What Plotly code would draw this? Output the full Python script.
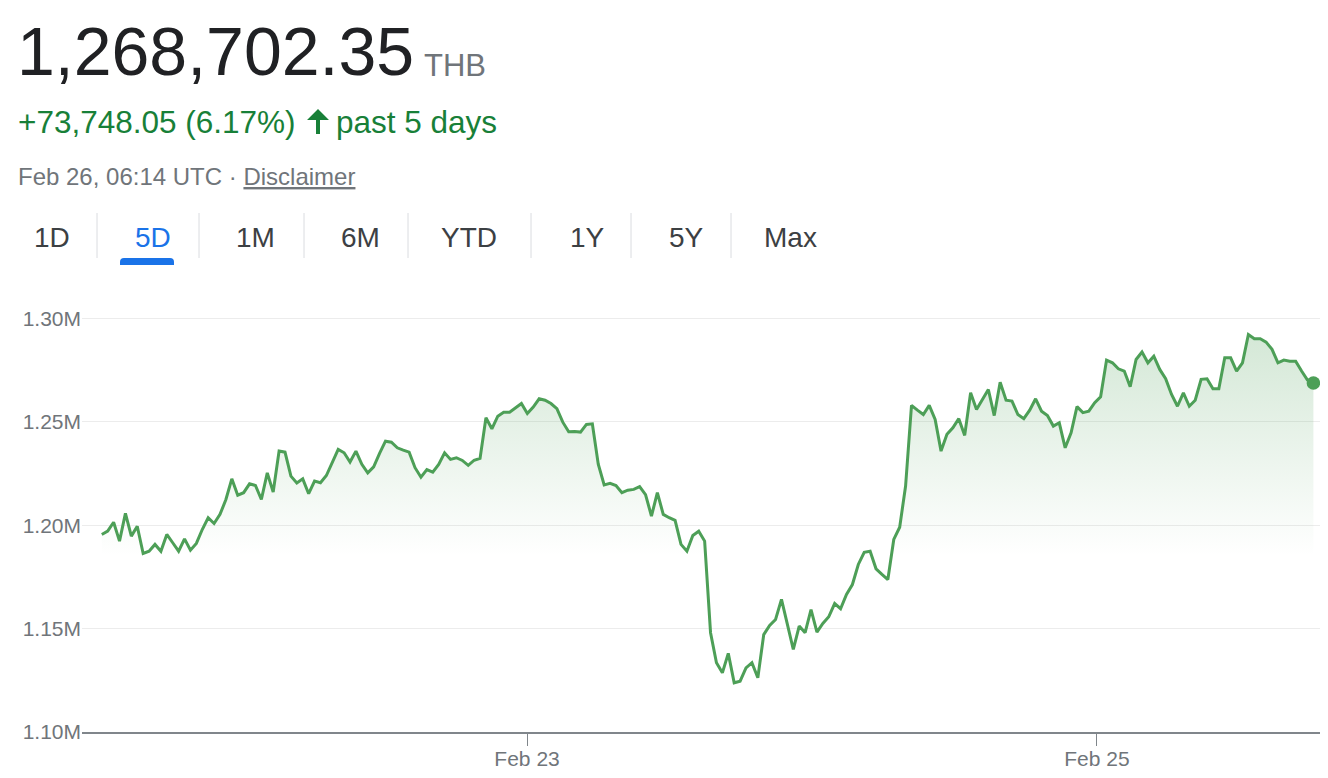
import pandas as pd
import plotly.graph_objects as go

# ---------------- data ----------------
start_time = "2024-02-21 12:11"
step = "1792s"
values_m = [
    1.1955, 1.1971, 1.2014, 1.1923, 1.2057, 1.1947, 1.1995, 1.1863, 1.1874, 1.1907,
    1.1874, 1.1955, 1.1915, 1.1874, 1.1934, 1.1879, 1.1912, 1.1979, 1.2036, 1.2008,
    1.2052, 1.2124, 1.2224, 1.2145, 1.2157, 1.2200, 1.2192, 1.2124, 1.2253, 1.2160,
    1.2358, 1.2353, 1.2237, 1.2204, 1.2224, 1.2152, 1.2213, 1.2205, 1.2240, 1.2302,
    1.2366, 1.2350, 1.2305, 1.2358, 1.2294, 1.2253, 1.2282, 1.2347, 1.2406, 1.2401,
    1.2374, 1.2363, 1.2353, 1.2278, 1.2232, 1.2269, 1.2256, 1.2294, 1.2350, 1.2318,
    1.2326, 1.2313, 1.2289, 1.2314, 1.2323, 1.2519, 1.2466, 1.2527, 1.2546, 1.2546,
    1.2568, 1.2588, 1.2540, 1.2571, 1.2611, 1.2604, 1.2588, 1.2563, 1.2498, 1.2452,
    1.2453, 1.2450, 1.2487, 1.2490, 1.2295, 1.2195, 1.2202, 1.2192, 1.2157, 1.2169,
    1.2173, 1.2186, 1.2148, 1.2044, 1.2157, 1.2052, 1.2036, 1.2023, 1.1907, 1.1874,
    1.1950, 1.1971, 1.1923, 1.1480, 1.1335, 1.1286, 1.1380, 1.1238, 1.1246, 1.1310,
    1.1335, 1.1262, 1.1471, 1.1515, 1.1544, 1.1641, 1.1520, 1.1399, 1.1512, 1.1480,
    1.1592, 1.1483, 1.1525, 1.1557, 1.1621, 1.1596, 1.1665, 1.1713, 1.1810, 1.1869,
    1.1874, 1.1789, 1.1762, 1.1737, 1.1931, 1.1990, 1.2189, 1.2579, 1.2556, 1.2535,
    1.2579, 1.2511, 1.2358, 1.2439, 1.2471, 1.2515, 1.2434, 1.2640, 1.2559, 1.2611,
    1.2656, 1.2530, 1.2691, 1.2604, 1.2600, 1.2535, 1.2515, 1.2556, 1.2611, 1.2551,
    1.2530, 1.2479, 1.2495, 1.2374, 1.2447, 1.2573, 1.2544, 1.2551, 1.2592, 1.2621,
    1.2798, 1.2785, 1.2756, 1.2745, 1.2669, 1.2801, 1.2837, 1.2785, 1.2817, 1.2753,
    1.2708, 1.2632, 1.2575, 1.2640, 1.2575, 1.2604, 1.2705, 1.2708, 1.2660, 1.2660,
    1.2809, 1.2809, 1.2745, 1.2785, 1.2922, 1.2901, 1.2901, 1.2885, 1.2850, 1.2785,
    1.2798, 1.2793, 1.2793, 1.2745, 1.2701, 1.2687,
]
y_ticks = [1.10, 1.15, 1.20, 1.25, 1.30]
y_tick_labels = ["1.10M", "1.15M", "1.20M", "1.25M", "1.30M"]
x_ticks = ["2024-02-23", "2024-02-25"]
x_tick_labels = ["Feb 23", "Feb 25"]
x_range = ["2024-02-21 10:31", "2024-02-25 18:47"]
y_range = [1.10, 1.3137]

price_text = "1,268,702.35"
currency_text = "THB"
change_text = "+73,748.05 (6.17%)"
period_text = "past 5 days"
date_text = "Feb 26, 06:14 UTC · <u>Disclaimer</u>"
tabs = ["1D", "5D", "1M", "6M", "YTD", "1Y", "5Y", "Max"]
active_tab = "5D"

times = pd.date_range(start=start_time, periods=len(values_m), freq=step)

# ---------------- layout geometry ----------------
OFF = 8  # page body margin of the html page
W, H = 1328 - 2 * OFF, 778 - 2 * OFF
L, R, T = 82 - OFF, 0, 290 - OFF
B = H - (732 - OFF)
PW, PH = W - L - R, H - T - B


def px(x):
    return (x - OFF - L) / PW


def py(y):
    return (H - B - (y - OFF)) / PH


FONT = "Arial, Liberation Sans, sans-serif"
GREEN_LINE = "#4d9f57"
GREEN_TEXT = "#188038"
GREY = "#70757a"

fig = go.Figure()
fig.add_trace(go.Scatter(
    x=times, y=values_m, mode="lines",
    line=dict(color=GREEN_LINE, width=3),
    fill="tozeroy",
    fillgradient=dict(type="vertical", start=1.185, stop=1.30,
                      colorscale=[[0, "rgba(77,159,87,0)"], [1, "rgba(77,159,87,0.26)"]]),
    hoverinfo="skip", showlegend=False,
))
fig.add_trace(go.Scatter(
    x=[times[-1]], y=[values_m[-1]], mode="markers",
    marker=dict(color=GREEN_LINE, size=13.5),
    cliponaxis=False,
    hoverinfo="skip", showlegend=False,
))

annotations = []


def ann(text, x, y, size, color, xanchor="left"):
    annotations.append(dict(
        text=text, x=px(x), y=py(y), xref="paper", yref="paper",
        xanchor=xanchor, yanchor="middle", showarrow=False,
        font=dict(family=FONT, size=size, color=color),
    ))


ann(price_text, 15, 51, 68, "#202124")
ann(currency_text, 422, 65, 31, GREY)
ann(change_text, 16, 122, 31.5, GREEN_TEXT)
ann(period_text, 334, 122, 31.5, GREEN_TEXT)
ann(date_text, 16, 176, 24, GREY)

tab_centers = [51.5, 153, 255.5, 360, 468.5, 587, 686.5, 790]
for t, cx in zip(tabs, tab_centers):
    ann(t, cx, 237, 28, "#1a73e8" if t == active_tab else "#3c4043", xanchor="center")

shapes = []
for sx in [97, 199, 304, 408, 531, 631, 731]:
    shapes.append(dict(type="line", xref="paper", yref="paper",
                       x0=px(sx), x1=px(sx), y0=py(213), y1=py(258),
                       line=dict(color="#dadce0", width=1)))

# active tab underline (rounded top)
ux0, ux1, uy0, uy1, r = 120, 174, 258, 265, 4
path = (f"M {px(ux0)},{py(uy1)} L {px(ux0)},{py(uy0 + r)} "
        f"Q {px(ux0)},{py(uy0)} {px(ux0 + r)},{py(uy0)} "
        f"L {px(ux1 - r)},{py(uy0)} Q {px(ux1)},{py(uy0)} {px(ux1)},{py(uy0 + r)} "
        f"L {px(ux1)},{py(uy1)} Z")
shapes.append(dict(type="path", xref="paper", yref="paper", path=path,
                   fillcolor="#1a73e8", line=dict(width=0)))

# up arrow icon
ax = 318
arrow = (f"M {px(ax)},{py(109)} L {px(ax + 11)},{py(120)} L {px(ax + 2)},{py(120)} "
         f"L {px(ax + 2)},{py(134)} L {px(ax - 2)},{py(134)} L {px(ax - 2)},{py(120)} "
         f"L {px(ax - 11)},{py(120)} Z")
shapes.append(dict(type="path", xref="paper", yref="paper", path=arrow,
                   fillcolor=GREEN_TEXT, line=dict(width=0)))

fig.update_layout(
    width=W, height=H,
    margin=dict(l=L, r=R, t=T, b=B, pad=0),
    paper_bgcolor="white", plot_bgcolor="white",
    font=dict(family=FONT, color=GREY),
    annotations=annotations, shapes=shapes,
    showlegend=False,
    xaxis=dict(
        type="date", range=x_range, tickvals=x_ticks, ticktext=x_tick_labels,
        showgrid=False, zeroline=False,
        showline=True, linecolor="#80868b", linewidth=2,
        ticks="outside", ticklen=12, tickcolor="#80868b", tickwidth=1,
        ticklabelstandoff=-5,
        tickfont=dict(size=21, color=GREY, family=FONT),
        fixedrange=True,
    ),
    yaxis=dict(
        range=y_range, tickvals=y_ticks, ticktext=y_tick_labels,
        showgrid=True, gridcolor="#ececec", gridwidth=1, zeroline=False,
        showline=False, ticks="",
        tickfont=dict(size=21, color=GREY, family=FONT),
        fixedrange=True,
    ),
)

fig.write_html("out.html", config={"displayModeBar": False})
